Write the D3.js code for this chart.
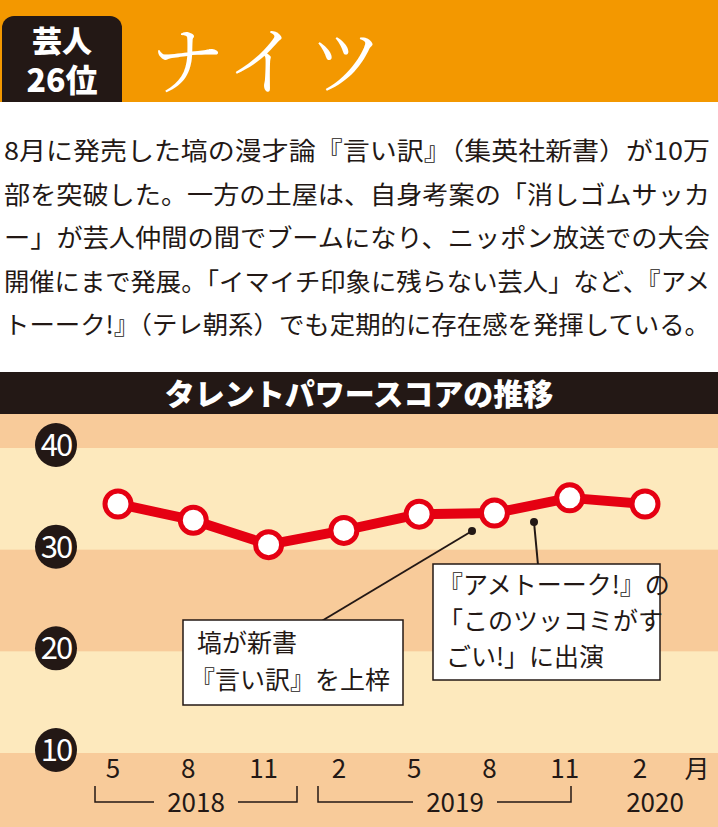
<!DOCTYPE html><html><head><meta charset="utf-8">
<script src="https://cdn.jsdelivr.net/npm/d3@7"></script>
<style>body{margin:0;background:#fff}svg{display:block;font-family:"Noto Sans CJK JP",sans-serif}</style></head><body>
<script>
const months=["5","8","11","2","5","8","11","2"];
const values=[34.2,32.6,30.2,31.6,33.2,33.3,34.8,34.2];
const yTicks=[10,20,30,40];
const para=["8月に発売した塙の漫才論『言い訳』（集英社新書）が10万","部を突破した。一方の土屋は、自身考案の「消しゴムサッカ","ー」が芸人仲間の間でブームになり、ニッポン放送での大会","開催にまで発展。「イマイチ印象に残らない芸人」など、『アメ","トーーク!』（テレ朝系）でも定期的に存在感を発揮している。"];
const W=718,H=827;
const svg=d3.select("body").append("svg").attr("width",W).attr("height",H);
svg.append("rect").attr("width",W).attr("height",102).attr("fill","#f39800");
svg.append("rect").attr("x",2).attr("y",16).attr("width",120).attr("height",86).attr("rx",12).attr("fill","#231815");
svg.append("rect").attr("x",2).attr("y",60).attr("width",120).attr("height",42).attr("fill","#231815");
svg.append("text").attr("x",62).attr("y",52).attr("text-anchor","middle").attr("fill","#fff").attr("font-size",30).attr("font-weight",900).text("芸人");
svg.append("text").attr("x",62).attr("y",92).attr("text-anchor","middle").attr("fill","#fff").attr("font-size",32).attr("font-weight",900).text("26位");
svg.append("text").attr("x",150).attr("y",88).attr("fill","#fff").attr("font-size",74).attr("font-family","'Noto Serif CJK JP',serif").attr("letter-spacing",8).text("ナイツ");
para.forEach((t,i)=>svg.append("text").attr("x",4).attr("y",160+i*43.5).attr("font-size",24.5).attr("fill","#231815").attr("textLength",706).attr("lengthAdjust","spacingAndGlyphs").text(t));
const y=d3.scaleLinear().domain([10,40]).range([750,445]);
const x=d3.scalePoint().domain(d3.range(8)).range([118,645]);
const cTop=414,cBot=827;
svg.append("rect").attr("x",0).attr("y",cTop).attr("width",W).attr("height",cBot-cTop).attr("fill","#f8cb9a");
[[30,40],[10,20]].forEach(([a,b])=>svg.append("rect").attr("x",0).attr("y",y(b)+3).attr("width",W).attr("height",y(a)-y(b)).attr("fill","#fde9bd"));
svg.append("rect").attr("x",0).attr("y",372).attr("width",W).attr("height",42).attr("fill","#231815");
svg.append("text").attr("x",359).attr("y",405).attr("text-anchor","middle").attr("fill","#fff").attr("font-size",30).attr("font-weight",900).text("タレントパワースコアの推移");
yTicks.forEach(v=>{const g=svg.append("g").attr("transform",`translate(56,${y(v)})`);
g.append("ellipse").attr("rx",21).attr("ry",22).attr("fill","#231815");
g.append("text").attr("y",11).attr("text-anchor","middle").attr("fill","#fff").attr("font-size",31).attr("letter-spacing",-2).text(v);});
svg.append("line").attr("x1",472).attr("y1",531).attr("x2",320).attr("y2",622).attr("stroke","#231815").attr("stroke-width",2);
svg.append("circle").attr("cx",472).attr("cy",531).attr("r",4).attr("fill","#231815");
svg.append("line").attr("x1",534).attr("y1",522).attr("x2",538).attr("y2",565).attr("stroke","#231815").attr("stroke-width",2);
svg.append("circle").attr("cx",534).attr("cy",522).attr("r",4).attr("fill","#231815");
svg.append("rect").attr("x",183).attr("y",620).attr("width",220).attr("height",85).attr("fill","#fff").attr("stroke","#231815").attr("stroke-width",1.5);
["塙が新書","『言い訳』を上梓"].forEach((t,i)=>svg.append("text").attr("x",i?190:197).attr("y",652+i*37).attr("font-size",25).attr("fill","#231815").text(t));
svg.append("rect").attr("x",433).attr("y",564).attr("width",227).attr("height",116).attr("fill","#fff").attr("stroke","#231815").attr("stroke-width",1.5);
["『アメトーーク!』の","「このツッコミがす","ごい!」に出演"].forEach((t,i)=>svg.append("text").attr("x",i==2?446:438).attr("y",594+i*36).attr("font-size",25).attr("fill","#231815").text(t));
svg.append("path").datum(values).attr("fill","none").attr("stroke","#e50012").attr("stroke-width",10).attr("stroke-linejoin","round")
 .attr("d",d3.line().x((d,i)=>x(i)).y(d=>y(d)));
svg.selectAll(".pt").data(values).join("circle").attr("cx",(d,i)=>x(i)).attr("cy",d=>y(d)).attr("r",13).attr("fill","#fff").attr("stroke","#e50012").attr("stroke-width",5);
months.forEach((m,i)=>svg.append("text").attr("x",x(i)-5).attr("y",778).attr("text-anchor","middle").attr("font-size",26).attr("fill","#231815").text(m));
svg.append("text").attr("x",697).attr("y",778).attr("text-anchor","middle").attr("font-size",25).attr("fill","#231815").text("月");
const br=(x1,x2,label,lx)=>{const g=svg.append("g").attr("stroke","#231815").attr("stroke-width",1.5).attr("fill","none");
 g.append("path").attr("d",`M${x1},786V802H${lx-42}M${lx+42},802H${x2}V786`);
 svg.append("text").attr("x",lx).attr("y",812).attr("text-anchor","middle").attr("font-size",26).attr("fill","#231815").text(label);};
br(95,297,"2018",196);br(318,571,"2019",455);
svg.append("text").attr("x",655).attr("y",812).attr("text-anchor","middle").attr("font-size",26).attr("fill","#231815").text("2020");
</script></body></html>
